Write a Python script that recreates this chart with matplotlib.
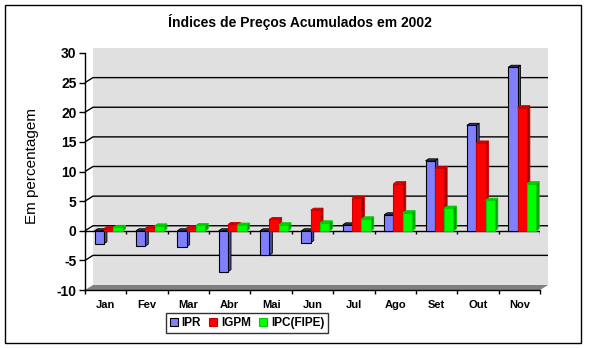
import numpy as np
import matplotlib.pyplot as plt
from matplotlib.patches import Polygon, Rectangle

plt.rcParams['font.family'] = ['Liberation Sans', 'DejaVu Sans']

meses = ['Jan', 'Fev', 'Mar', 'Abr', 'Mai', 'Jun', 'Jul', 'Ago', 'Set', 'Out', 'Nov']
ipr = [-2.2, -2.6, -2.7, -6.9, -4.1, -2.0, 1.0, 2.7, 11.8, 17.8, 27.6]
igpm = [0.36, 0.42, 0.51, 1.07, 1.91, 3.48, 5.50, 7.95, 10.54, 14.82, 20.78]
ipc_fipe = [0.57, 0.83, 0.90, 0.96, 1.02, 1.34, 2.02, 3.05, 3.83, 5.16, 7.95]
nomes = ['IPR', 'IGPM', 'IPC(FIPE)']
yticks = [-10, -5, 0, 5, 10, 15, 20, 25, 30]

# cor da frente, lado, topo, borda
cores = [('#8080FF', '#4D4D99', '#333366', 'black'),
         ('#FF0000', '#990000', '#CC0000', '#CC0000'),
         ('#00FF00', '#009900', '#00CC00', '#00CC00')]

W, H = 590, 348
fig = plt.figure(figsize=(W / 100, H / 100), dpi=100)
ax = fig.add_axes([85 / W, 58 / H, 455 / W, 237 / H])
ax.set_xlim(-0.5, 10.5)
ax.set_ylim(-10, 30)

# pixels por unidade
sx = 455 / 11
sy = 237 / 40
# profundidade da parede e das barras (em unidades dos dados)
pwx, pwy = 8 / sx, 5 / sy
pbx, pby = 3 / sx, 2 / sy

x = np.arange(len(meses))
x0, x1 = -0.5, len(meses) - 0.5

# parede do fundo e piso
ax.add_patch(Polygon([(x0 + pwx, -10 + pwy), (x1 + pwx, -10 + pwy), (x1 + pwx, 30 + pwy),
                      (x0 + pwx, 30 + pwy)], closed=True, fc='#E0E0E0', ec='none',
                     clip_on=False, zorder=0))
ax.add_patch(Polygon([(x0, -10), (x1, -10), (x1 + pwx, -10 + pwy), (x0 + pwx, -10 + pwy)],
                     closed=True, fc='#808080', ec='none', clip_on=False, zorder=0.5))

# linhas de grade
for t in yticks[1:-1]:
    ax.plot([x0, x0 + pwx, x1 + pwx], [t, t + pwy, t + pwy], color='black', lw=1,
            clip_on=False, zorder=1, solid_capstyle='butt')

# eixo do zero na frente
ax.plot([x0, x1], [0, 0], color='black', lw=1, zorder=1.5)
ax.vlines(np.arange(len(meses) + 1) - 0.5, -0.5, 0, color='black', lw=1, zorder=1.5)

larg = 0.225
desl = 0.07
series = [ipr, igpm, ipc_fipe]
barras = []
for k, vals in enumerate(series):
    frente, lado, topo, borda = cores[k]
    pos = x + desl + (k - 1) * larg
    b = ax.bar(pos, vals, width=larg, color=frente, edgecolor=borda, lw=0.8,
               zorder=3 + k, label=nomes[k])
    barras.append(b)
    for xc, v in zip(pos, vals):
        xl = xc - larg / 2
        xr = xc + larg / 2
        yt = max(v, 0)
        yb = min(v, 0)
        ax.add_patch(Polygon([(xr, yb), (xr, yt), (xr + pbx, yt + pby), (xr + pbx, yb + pby)],
                             closed=True, fc=lado, ec=borda, lw=0.6, zorder=2.8 + k))
        ax.add_patch(Polygon([(xl, yt), (xr, yt), (xr + pbx, yt + pby), (xl + pbx, yt + pby)],
                             closed=True, fc=topo, ec=borda, lw=0.6, zorder=2.8 + k))

# eixos
for s in ['top', 'right']:
    ax.spines[s].set_visible(False)
ax.spines['left'].set_linewidth(1)
ax.spines['bottom'].set_linewidth(1)
ax.spines['left'].set_zorder(2)
ax.spines['bottom'].set_zorder(2)
ax.set_yticks(yticks)
ax.set_yticklabels([str(t) for t in yticks], fontsize=10, fontweight='bold')
ax.tick_params(axis='y', direction='out', length=4, width=1, pad=2)
ax.set_xticks(np.arange(len(meses) + 1) - 0.5)
ax.set_xticklabels([])
ax.tick_params(axis='x', direction='out', length=3, width=1)
ax.set_xticks(x, minor=True)
ax.set_xticklabels(meses, minor=True, fontsize=8, fontweight='bold')
ax.tick_params(axis='x', which='minor', length=0, pad=7)
ax.patch.set_visible(False)

fig.text(300 / W, 1 - 22 / H, 'Índices de Preços Acumulados em 2002', ha='center',
         va='center', fontsize=10, fontweight='bold')
fig.text(32 / W, 1 - 166 / H, 'Em percentagem', rotation=90, ha='center', va='center',
         fontsize=11)

leg = fig.legend(handles=barras, labels=nomes, loc='center', bbox_to_anchor=(247 / W, 1 - 323 / H),
                 ncol=3, frameon=True, fancybox=False, edgecolor='black', handlelength=0.7,
                 handleheight=0.7, handletextpad=0.3, columnspacing=0.7, borderpad=0.35,
                 prop={'weight': 'bold', 'size': 8.5})
leg.get_frame().set_linewidth(1)

fig.add_artist(Rectangle((5 / W, 5 / H), 576 / W, 338 / H, transform=fig.transFigure,
                         fill=False, ec='black', lw=1))

fig.savefig('out.png', dpi=100)
